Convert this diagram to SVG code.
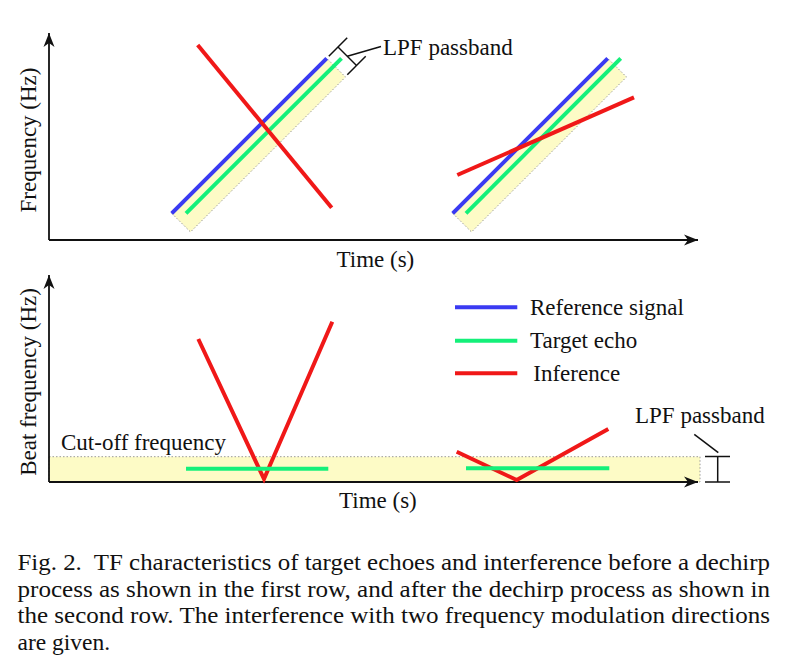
<svg xmlns="http://www.w3.org/2000/svg" width="786" height="670" viewBox="0 0 786 670">
<style>
text{fill:#111;}
.lbl{font-size:23px;}
.cap{font-size:23.5px;}
.axis{stroke:#111;stroke-width:1.8;fill:none;marker-end:url(#arr);}
.ref{stroke:#3a3af2;stroke-width:4;fill:none;}
.echo{stroke:#14f07a;stroke-width:4;fill:none;}
.intf{stroke:#f01818;stroke-width:4;fill:none;stroke-linejoin:miter;stroke-miterlimit:10;}
.band{fill:#fdfbc6;stroke:#9a9a9a;stroke-width:1;stroke-dasharray:1.5 2;}
.brk{stroke:#111;stroke-width:1.5;fill:none;}
</style>
<defs>
<marker id="arr" viewBox="-15 -7 16 14" refX="0" refY="0" markerWidth="16" markerHeight="14" markerUnits="userSpaceOnUse" orient="auto">
<path d="M0,0 L-14,-5.5 L-10,0 L-14,5.5 Z" fill="#111"/>
</marker>
</defs>
<g font-family="Liberation Serif, Times New Roman, Tinos, serif">
<g id="top-panel">
<g id="band-top-1"><polygon class="band" points="171.7,213.3 326.7,58.3 345.5,77 190.5,232"/></g>
<g id="band-top-2"><polygon class="band" points="452.7,213.3 607.7,58.3 626.5,77 471.5,232"/></g>
<g id="axes-top">
<line class="axis" x1="49" y1="240" x2="49" y2="33"/>
<line class="axis" x1="49" y1="240" x2="698" y2="240"/>
</g>
<g id="signals-top-1">
<line class="ref" x1="171.7" y1="213.3" x2="326.7" y2="58.3"/>
<line class="echo" x1="186" y1="213.3" x2="341.5" y2="58.3"/>
<line class="intf" x1="197.7" y1="45" x2="331.7" y2="207.7"/>
</g>
<g id="signals-top-2">
<line class="ref" x1="452.7" y1="213.3" x2="607.7" y2="58.3"/>
<line class="echo" x1="466" y1="213.3" x2="620.7" y2="58.3"/>
<line class="intf" x1="457.3" y1="175" x2="634" y2="97.3"/>
</g>
<g id="lpf-top">
<line class="brk" x1="328.8" y1="56.2" x2="347.2" y2="37.8"/>
<line class="brk" x1="347.3" y1="74.7" x2="365.7" y2="56.3"/>
<line class="brk" x1="338" y1="47" x2="356.5" y2="65.5"/>
<line class="brk" x1="347.3" y1="56.3" x2="381" y2="46.5"/>
<text class="lbl" x="383" y="55">LPF passband</text>
</g>
<text class="lbl" x="36" y="140" text-anchor="middle" transform="rotate(-90 36 140)">Frequency (Hz)</text>
<text class="lbl" x="336.5" y="267">Time (s)</text>
</g>

<g id="bottom-panel">
<g id="band-bottom"><rect class="band" x="49" y="456.7" width="651" height="25.3"/></g>
<g id="axes-bottom">
<line class="axis" x1="49" y1="482" x2="49" y2="275"/>
<line class="axis" x1="49" y1="482" x2="698" y2="482"/>
</g>
<g id="signals-bottom-1">
<polyline class="intf" points="198.3,339 264,479 332.3,321.7"/>
<line class="echo" x1="186" y1="468.7" x2="328.3" y2="468.7"/>
</g>
<g id="signals-bottom-2">
<polyline class="intf" points="456.7,451.7 516.7,480 608.3,429"/>
<line class="echo" x1="466" y1="468.3" x2="609.3" y2="468.3"/>
</g>
<g id="lpf-bottom">
<line class="brk" x1="705" y1="456.5" x2="730" y2="456.5"/>
<line class="brk" x1="705" y1="482" x2="730" y2="482"/>
<line class="brk" x1="717.7" y1="456.5" x2="717.7" y2="482"/>
<line class="brk" x1="694.3" y1="434.3" x2="718.3" y2="452.7"/>
<text class="lbl" x="635" y="423">LPF passband</text>
</g>
<text class="lbl" x="61" y="450">Cut-off frequency</text>
<text class="lbl" x="36" y="382" text-anchor="middle" transform="rotate(-90 36 382)">Beat frequency (Hz)</text>
<text class="lbl" x="339" y="507.5">Time (s)</text>
</g>

<g id="legend">
<line class="ref" x1="455" y1="307.3" x2="517.3" y2="307.3"/>
<text class="lbl" x="530" y="315">Reference signal</text>
<line class="echo" x1="455" y1="340.7" x2="517.3" y2="340.7"/>
<text class="lbl" x="530" y="348">Target echo</text>
<line class="intf" x1="455" y1="373.3" x2="517.3" y2="373.3"/>
<text class="lbl" x="533.3" y="380.5">Inference</text>
</g>

<g id="caption">
<text class="cap" x="17.5" y="570" textLength="752.5" lengthAdjust="spacingAndGlyphs" style="white-space:pre">Fig. 2.  TF characteristics of target echoes and interference before a dechirp</text>
<text class="cap" x="17.5" y="596.5" textLength="752.5" lengthAdjust="spacingAndGlyphs">process as shown in the first row, and after the dechirp process as shown in</text>
<text class="cap" x="17.5" y="623" textLength="752.5" lengthAdjust="spacingAndGlyphs">the second row. The interference with two frequency modulation directions</text>
<text class="cap" x="17.5" y="649.5">are given.</text>
</g>
</g>
</svg>
